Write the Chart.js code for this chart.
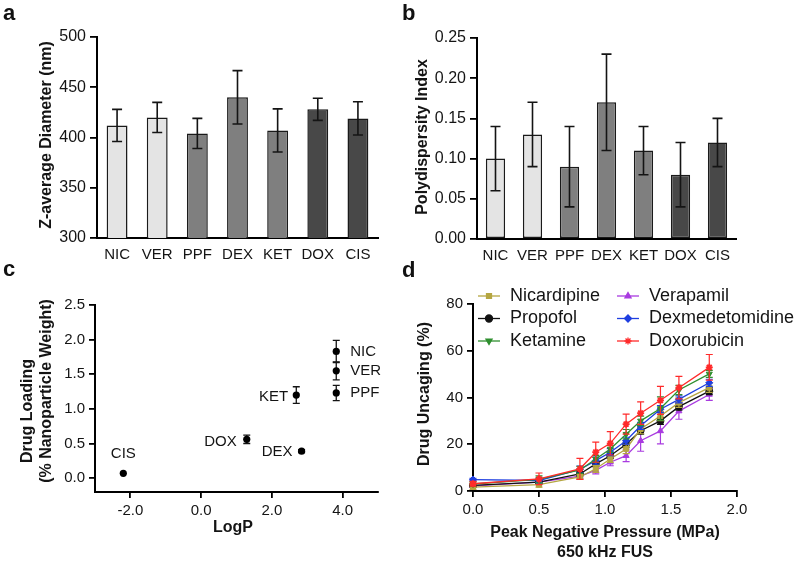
<!DOCTYPE html>
<html>
<head>
<meta charset="utf-8">
<script src="https://cdn.jsdelivr.net/npm/chart.js@4.4.1/dist/chart.umd.min.js"></script>
<style>
    body { margin: 0; background: #fff; }
    #wrap { position: relative; width: 800px; height: 562px; overflow: hidden; background: #fff; }
    canvas { position: absolute; }
    .tag { position: absolute; font: bold 22px "Liberation Sans", Arial, sans-serif; line-height: 22px; color: #111; }
</style>
</head>
<body>
<div id="wrap">
    <canvas id="chart-a" width="400" height="280" style="left:0;top:0"></canvas>
    <canvas id="chart-b" width="400" height="280" style="left:400px;top:0"></canvas>
    <canvas id="chart-c" width="400" height="282" style="left:0;top:280px"></canvas>
    <canvas id="chart-d" width="400" height="282" style="left:400px;top:280px"></canvas>
    <div class="tag" style="left:3px;top:2px">a</div>
    <div class="tag" style="left:402px;top:2px">b</div>
    <div class="tag" style="left:3px;top:258px">c</div>
    <div class="tag" style="left:402px;top:259px">d</div>
</div>
<script>
// ---- data ----
const drugs = ['NIC', 'VER', 'PPF', 'DEX', 'KET', 'DOX', 'CIS'];
const zAverage = [412, 420, 404, 440, 407, 428, 419];
const zAverageSd = [16, 15, 15, 26.5, 21.5, 11, 16.5];
const pdi = [0.10, 0.13, 0.09, 0.17, 0.11, 0.08, 0.12];
const pdiSd = [0.04, 0.04, 0.05, 0.06, 0.03, 0.04, 0.03];

const loadDrugs = ['NIC', 'VER', 'PPF', 'KET', 'DEX', 'DOX', 'CIS'];
const logP = [3.82, 3.82, 3.82, 2.69, 2.84, 1.29, -2.2];
const loading = [1.83, 1.55, 1.23, 1.20, 0.39, 0.56, 0.07];
const loadingSd = [0.16, 0.13, 0.11, 0.12, 0.02, 0.06, 0];

const pressure = [0, 0.5, 0.81, 0.93, 1.04, 1.16, 1.27, 1.42, 1.56, 1.79];
const seriesNames = ['Nicardipine', 'Propofol', 'Ketamine', 'Verapamil', 'Dexmedetomidine', 'Doxorubicin'];
const nicardipine = [1.7, 2.7, 6.0, 9.5, 13.7, 18.0, 26.5, 32.1, 37.8, 44.2];
const propofol = [2.4, 3.8, 7.3, 11.6, 15.1, 20.0, 25.8, 30.0, 36.1, 42.7];
const ketamine = [3.0, 5.0, 9.0, 13.7, 18.0, 24.3, 30.0, 35.3, 43.2, 50.1];
const verapamil = [2.2, 3.8, 6.4, 8.8, 12.3, 15.1, 21.5, 25.7, 34.2, 41.3];
const dexmedetomidine = [4.9, 4.5, 9.2, 13.0, 16.6, 21.5, 27.9, 35.0, 39.2, 46.3];
const doxorubicin = [3.1, 5.2, 9.5, 16.6, 20.4, 28.6, 33.3, 38.8, 44.2, 52.9];
const nicardipineSd = [1, 1, 1, 1.5, 1.5, 2, 2, 2, 2, 2];
const propofolSd = [0.5, 0.5, 1, 1, 1, 1.5, 1.5, 1.5, 1.5, 1.5];
const ketamineSd = [1, 1.5, 1.5, 1.5, 1.5, 2, 2, 5, 2, 1.5];
const verapamilSd = [0.5, 0.5, 1, 1.5, 1.5, 2.5, 4.5, 5.5, 3.5, 2.5];
const dexmedetomidineSd = [0.5, 1, 1.5, 1.5, 1.5, 1.5, 1.5, 1.5, 1.5, 1.5];
const doxorubicinSd = [1, 2.5, 4.5, 4.3, 5, 4.3, 4.8, 6, 4.8, 5.5];

// tick labels
const ticksA = [300, 350, 400, 450, 500];
const ticksB = [0, 0.05, 0.10, 0.15, 0.20, 0.25];
const ticksCx = [-2, 0, 2, 4];
const ticksCy = [0, 0.5, 1.0, 1.5, 2.0, 2.5];
const ticksDx = [0, 0.5, 1.0, 1.5, 2.0];
const ticksDy = [0, 20, 40, 60, 80];

// ---- styles ----
const FONT = '"Liberation Sans", Arial, Helvetica, sans-serif';
const INK = '#141414';
const barColors = ['#e4e4e4', '#e4e4e4', '#7f7f7f', '#7f7f7f', '#7f7f7f', '#484848', '#484848'];
const seriesColors = ['#b5a642', '#111111', '#2f8f2f', '#a93be0', '#1f3fe0', '#ff2a2a'];
const seriesPoints = [
    { style: 'rect', rotation: 0 },
    { style: 'circle', rotation: 0 },
    { style: 'triangle', rotation: 180 },
    { style: 'triangle', rotation: 0 },
    { style: 'rectRot', rotation: 0 },
    { style: 'star', rotation: 0 },
];
const seriesDrawOrder = [3, 4, 1, 5, 2, 0];
const pointLabelPos = {
    NIC: [14, 0, 'left'], VER: [14, 0, 'left'], PPF: [14, 0, 'left'],
    KET: [-8, 2, 'right'], DEX: [-9, 1, 'right'], DOX: [-10, 2, 'right'],
    CIS: [0, -19, 'center'],
};

Chart.defaults.font.family = FONT;
Chart.defaults.font.size = 15;
Chart.defaults.color = INK;

// pin the plot area of each panel
function frame(box, w, h) {
    return {
        padding: { left: 0, top: box.t, right: w - box.r, bottom: 0 },
        fitY: s => { s.width = box.l; s.paddingTop = 0; s.paddingBottom = 0; },
        fitX: s => { s.height = h - box.b; s.paddingLeft = 0; s.paddingRight = 0; },
    };
}

function setTicks(list) {
    return axis => { axis.ticks = list.map(v => ({ value: v })); };
}

// error bars from the y scale
function drawErrors(chart, index, opts) {
    const ds = chart.data.datasets[index];
    if (!ds.errors) return;
    const meta = chart.getDatasetMeta(index);
    const yScale = chart.scales[meta.yAxisID];
    const ctx = chart.ctx;
    ctx.save();
    ctx.strokeStyle = ds.errorColor || INK;
    ctx.lineWidth = opts.width || 1.5;
    meta.data.forEach((el, i) => {
        const raw = ds.data[i];
        const v = typeof raw === 'object' ? raw.y : raw;
        const e = ds.errors[i];
        if (!e) return;
        const top = yScale.getPixelForValue(v + e);
        const bot = yScale.getPixelForValue(v - e);
        const c = opts.cap || 5;
        ctx.beginPath();
        ctx.moveTo(el.x, top); ctx.lineTo(el.x, bot);
        ctx.moveTo(el.x - c, top); ctx.lineTo(el.x + c, top);
        ctx.moveTo(el.x - c, bot); ctx.lineTo(el.x + c, bot);
        ctx.stroke();
    });
    ctx.restore();
}

const errorBars = {
    id: 'errorBars',
    beforeDatasetDraw(chart, args, opts) { if (opts.under) drawErrors(chart, args.index, opts); },
    afterDatasetDraw(chart, args, opts) { if (!opts.under) drawErrors(chart, args.index, opts); },
};

const axisTitles = {
    id: 'axisTitles',
    afterDraw(chart, args, opts) {
        const ctx = chart.ctx;
        ctx.save();
        ctx.fillStyle = INK;
        ctx.font = 'bold 16px ' + FONT;
        ctx.textAlign = 'center';
        ctx.textBaseline = 'middle';
        (opts.items || []).forEach(t => {
            ctx.save();
            ctx.translate(t.x, t.y);
            if (t.rotate) ctx.rotate(-Math.PI / 2);
            ctx.fillText(t.text, 0, 0);
            ctx.restore();
        });
        ctx.restore();
    },
};

const pointLabels = {
    id: 'pointLabels',
    afterDatasetsDraw(chart, args, opts) {
        if (!opts.names) return;
        const ctx = chart.ctx;
        const meta = chart.getDatasetMeta(0);
        ctx.save();
        ctx.fillStyle = INK;
        ctx.font = '15px ' + FONT;
        ctx.textBaseline = 'middle';
        meta.data.forEach((el, i) => {
            const name = opts.names[i];
            const [dx, dy, align] = pointLabelPos[name];
            ctx.textAlign = align;
            ctx.fillText(name, el.x + dx, el.y + dy);
        });
        ctx.restore();
    },
};

const seriesLegend = {
    id: 'seriesLegend',
    afterDraw(chart, args, opts) {
        if (!opts.show) return;
        const ctx = chart.ctx;
        ctx.save();
        ctx.font = '18px ' + FONT;
        ctx.textBaseline = 'middle';
        ctx.textAlign = 'left';
        seriesNames.forEach((name, i) => {
            const x = opts.cols[Math.floor(i / 3)];
            const y = opts.rows[i % 3];
            ctx.strokeStyle = seriesColors[i];
            ctx.fillStyle = seriesColors[i];
            ctx.lineWidth = 1.3;
            ctx.beginPath();
            ctx.moveTo(x, y); ctx.lineTo(x + 22, y);
            ctx.stroke();
            Chart.helpers.drawPoint(ctx, {
                pointStyle: seriesPoints[i].style, radius: 3.5,
                rotation: seriesPoints[i].rotation, borderWidth: seriesPoints[i].style === 'star' ? 1.8 : 1,
            }, x + 11, y);
            ctx.fillStyle = INK;
            ctx.fillText(name, x + 32, y);
        });
        ctx.restore();
    },
};

Chart.register(errorBars, axisTitles, pointLabels, seriesLegend);

const axisLine = { display: true, color: '#000', width: 2 };
const tickGrid = { drawOnChartArea: false, drawTicks: true, tickLength: 7, color: '#000', lineWidth: 1.8 };
const catGrid = { display: false, drawTicks: false, tickLength: 0 };
const catTicks = { padding: 8, font: { size: 15 }, maxRotation: 0, minRotation: 0, autoSkip: false };

// ---- a: Z-average diameter ----
const fa = frame({ l: 97, t: 37, r: 378, b: 238 }, 400, 280);
new Chart(document.getElementById('chart-a'), {
    type: 'bar',
    data: {
        labels: drugs,
        datasets: [{
            data: zAverage, errors: zAverageSd,
            backgroundColor: barColors, borderColor: '#1a1a1a', borderWidth: 1.5, borderSkipped: false,
            categoryPercentage: 1, barPercentage: 0.52,
        }],
    },
    options: {
        responsive: false, animation: false, devicePixelRatio: 1,
        layout: { padding: fa.padding },
        plugins: {
            legend: { display: false }, tooltip: { enabled: false },
            errorBars: { cap: 5, width: 1.6 },
            axisTitles: { items: [{ text: 'Z-average Diameter (nm)', x: 47, y: 135, rotate: true }] },
        },
        scales: {
            x: { grid: catGrid, border: axisLine, ticks: catTicks, afterFit: fa.fitX },
            y: {
                min: 300, max: 500, grid: tickGrid, border: axisLine,
                ticks: { padding: 4, font: { size: 16 } },
                afterBuildTicks: setTicks(ticksA), afterFit: fa.fitY,
            },
        },
    },
});

// ---- b: polydispersity index ----
const fb = frame({ l: 77, t: 38, r: 336, b: 239 }, 400, 280);
new Chart(document.getElementById('chart-b'), {
    type: 'bar',
    data: {
        labels: drugs,
        datasets: [{
            data: pdi, errors: pdiSd,
            backgroundColor: barColors, borderColor: '#1a1a1a', borderWidth: 1.5, borderSkipped: false,
            categoryPercentage: 1, barPercentage: 0.52,
        }],
    },
    options: {
        responsive: false, animation: false, devicePixelRatio: 1,
        layout: { padding: fb.padding },
        plugins: {
            legend: { display: false }, tooltip: { enabled: false },
            errorBars: { cap: 5, width: 1.6 },
            axisTitles: { items: [{ text: 'Polydispersity Index', x: 23, y: 137, rotate: true }] },
        },
        scales: {
            x: { grid: catGrid, border: axisLine, ticks: catTicks, afterFit: fb.fitX },
            y: {
                min: 0, max: 0.25, grid: tickGrid, border: axisLine,
                ticks: { padding: 4, font: { size: 16 }, callback: v => v.toFixed(2) },
                afterBuildTicks: setTicks(ticksB), afterFit: fb.fitY,
            },
        },
    },
});

// ---- c: drug loading vs LogP ----
const fc = frame({ l: 95, t: 25, r: 378, b: 212 }, 400, 282);
new Chart(document.getElementById('chart-c'), {
    type: 'scatter',
    data: {
        datasets: [{
            data: logP.map((x, i) => ({ x, y: loading[i] })), errors: loadingSd,
            pointRadius: 3.6, pointBackgroundColor: '#000', pointBorderColor: '#000', pointBorderWidth: 0,
        }],
    },
    options: {
        responsive: false, animation: false, devicePixelRatio: 1,
        layout: { padding: fc.padding },
        plugins: {
            legend: { display: false }, tooltip: { enabled: false },
            errorBars: { cap: 3.5, width: 1.3, under: true },
            pointLabels: { names: loadDrugs },
            axisTitles: {
                items: [
                    { text: 'Drug Loading', x: 28, y: 131, rotate: true },
                    { text: '(% Nanoparticle Weight)', x: 47, y: 111, rotate: true },
                    { text: 'LogP', x: 233, y: 248 },
                ],
            },
        },
        scales: {
            x: {
                type: 'linear', min: -3, max: 5, grid: { ...tickGrid, tickLength: 6 }, border: axisLine,
                ticks: { padding: 4, font: { size: 15 }, callback: v => v.toFixed(1) },
                afterBuildTicks: setTicks(ticksCx), afterFit: fc.fitX,
            },
            y: {
                min: -0.2, max: 2.5, grid: { ...tickGrid, tickLength: 6 }, border: axisLine,
                ticks: { padding: 4, font: { size: 15 }, callback: v => v.toFixed(1) },
                afterBuildTicks: setTicks(ticksCy), afterFit: fc.fitY,
            },
        },
    },
});

// ---- d: uncaging vs pressure ----
const seriesValues = [nicardipine, propofol, ketamine, verapamil, dexmedetomidine, doxorubicin];
const seriesSd = [nicardipineSd, propofolSd, ketamineSd, verapamilSd, dexmedetomidineSd, doxorubicinSd];
const fd = frame({ l: 73, t: 24, r: 337, b: 211 }, 400, 282);
new Chart(document.getElementById('chart-d'), {
    type: 'line',
    data: {
        datasets: seriesNames.map((name, i) => ({
            label: name,
            data: pressure.map((x, j) => ({ x, y: seriesValues[i][j] })),
            errors: seriesSd[i], errorColor: seriesColors[i],
            borderColor: seriesColors[i], backgroundColor: seriesColors[i],
            borderWidth: 1.3, tension: 0, clip: false, order: seriesDrawOrder[i],
            pointStyle: seriesPoints[i].style, pointRotation: seriesPoints[i].rotation,
            pointRadius: 3.5, pointBorderWidth: seriesPoints[i].style === 'star' ? 1.8 : 1,
        })),
    },
    options: {
        responsive: false, animation: false, devicePixelRatio: 1,
        layout: { padding: fd.padding },
        plugins: {
            legend: { display: false }, tooltip: { enabled: false },
            errorBars: { cap: 3.5, width: 1.2, under: true },
            seriesLegend: { show: true, cols: [78, 217], rows: [16, 38.5, 61] },
            axisTitles: {
                items: [
                    { text: 'Drug Uncaging (%)', x: 25, y: 114, rotate: true },
                    { text: 'Peak Negative Pressure (MPa)', x: 205, y: 253 },
                    { text: '650 kHz FUS', x: 205, y: 273 },
                ],
            },
        },
        scales: {
            x: {
                type: 'linear', min: 0, max: 2, grid: { ...tickGrid, tickLength: 6 }, border: axisLine,
                ticks: { padding: 4, font: { size: 15 }, callback: v => v.toFixed(1) },
                afterBuildTicks: setTicks(ticksDx), afterFit: fd.fitX,
            },
            y: {
                min: 0, max: 80, grid: { ...tickGrid, tickLength: 6 }, border: axisLine,
                ticks: { padding: 4, font: { size: 15 } },
                afterBuildTicks: setTicks(ticksDy), afterFit: fd.fitY,
            },
        },
    },
});
</script>
</body>
</html>
